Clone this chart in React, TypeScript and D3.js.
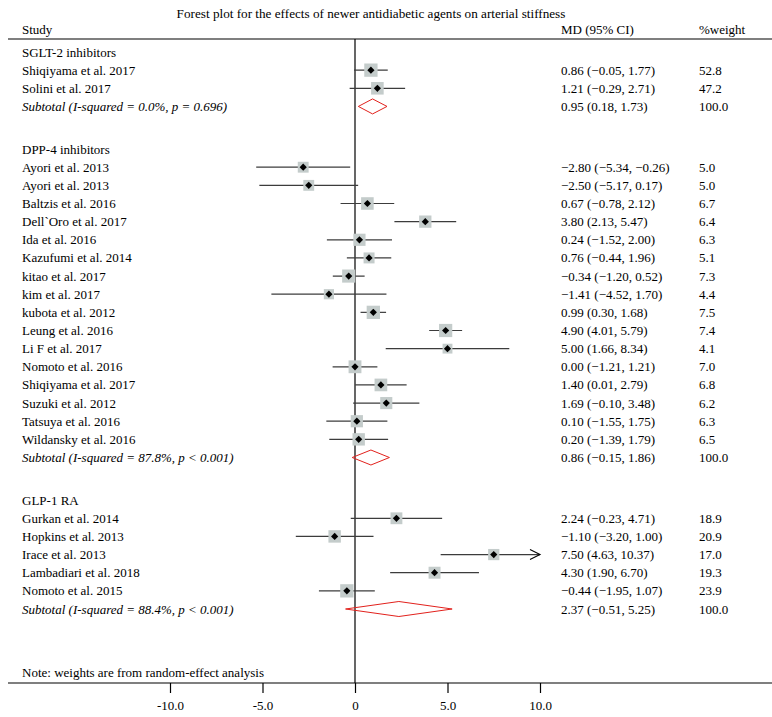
import { useEffect, useRef } from 'react';
import * as d3 from 'd3';

// subgroup headings and pooled results
const groupNames = ['SGLT-2 inhibitors', 'DPP-4 inhibitors', 'GLP-1 RA'];
const subMd = [0.95, 0.86, 2.37];
const subLo = [0.18, -0.15, -0.51];
const subHi = [1.73, 1.86, 5.25];
const subI2 = ['0.0%', '87.8%', '88.4%'];
const subP = ['p = 0.696', 'p < 0.001', 'p < 0.001'];

// individual studies
const studyGroup = [0, 0, 1, 1, 1, 1, 1, 1, 1, 1, 1, 1, 1, 1, 1, 1, 1, 1, 2, 2, 2, 2, 2];
const studyNames = [
  'Shiqiyama et al. 2017',
  'Solini et al. 2017',
  'Ayori et al. 2013',
  'Ayori et al. 2013',
  'Baltzis et al. 2016',
  'Dell`Oro et al. 2017',
  'Ida et al. 2016',
  'Kazufumi et al. 2014',
  'kitao et al. 2017',
  'kim et al. 2017',
  'kubota et al. 2012',
  'Leung et al. 2016',
  'Li F et al. 2017',
  'Nomoto et al. 2016',
  'Shiqiyama et al. 2017',
  'Suzuki et al. 2012',
  'Tatsuya et al. 2016',
  'Wildansky et al. 2016',
  'Gurkan et al. 2014',
  'Hopkins et al. 2013',
  'Irace et al. 2013',
  'Lambadiari et al. 2018',
  'Nomoto et al. 2015',
];
const studyMd = [0.86, 1.21, -2.8, -2.5, 0.67, 3.8, 0.24, 0.76, -0.34, -1.41, 0.99, 4.9, 5.0, 0.0, 1.4, 1.69, 0.1, 0.2, 2.24, -1.1, 7.5, 4.3, -0.44];
const studyLo = [-0.05, -0.29, -5.34, -5.17, -0.78, 2.13, -1.52, -0.44, -1.2, -4.52, 0.3, 4.01, 1.66, -1.21, 0.01, -0.1, -1.55, -1.39, -0.23, -3.2, 4.63, 1.9, -1.95];
const studyHi = [1.77, 2.71, -0.26, 0.17, 2.12, 5.47, 2.0, 1.96, 0.52, 1.7, 1.68, 5.79, 8.34, 1.21, 2.79, 3.48, 1.75, 1.79, 4.71, 1.0, 10.37, 6.7, 1.07];
const studyWeight = [52.8, 47.2, 5.0, 5.0, 6.7, 6.4, 6.3, 5.1, 7.3, 4.4, 7.5, 7.4, 4.1, 7.0, 6.8, 6.2, 6.3, 6.5, 18.9, 20.9, 17.0, 19.3, 23.9];

const axisTicks = [-10, -5, 0, 5, 10];

const W = 772;
const H = 717;
const FONT = '"Liberation Serif", "DejaVu Serif", serif';
const FS = 13;

function ForestPlot() {
  const svgRef = useRef(null);

  useEffect(() => {
    const svg = d3.select(svgRef.current);
    svg.selectAll('*').remove();
    svg.attr('font-family', FONT).attr('font-size', FS);

    // assign row slots: heading, studies, subtotal, then a gap
    const rows = [];
    let slot = 0;
    groupNames.forEach((g, gi) => {
      rows.push({ type: 'head', slot, gi });
      slot += 1;
      studyGroup.forEach((sg, i) => {
        if (sg === gi) {
          rows.push({ type: 'study', slot, gi, i });
          slot += 1;
        }
      });
      rows.push({ type: 'sub', slot, gi });
      slot += 2.35;
    });
    const lastSlot = rows[rows.length - 1].slot;

    const x = d3.scaleLinear().domain([-10, 10]).range([170, 540]);
    const y = d3.scaleLinear().domain([0, lastSlot]).range([52, 609]);
    const fmt = d3.format('.2f');

    const colStudy = 22;
    const colMd = 561;
    const colW = 699;
    const headerY = 39;
    const axisY = 683;

    // title + headers
    svg.append('text').attr('x', 371).attr('y', 18).attr('text-anchor', 'middle').attr('font-size', 13.2).text('Forest plot for the effects of newer antidiabetic agents on arterial stiffness');
    svg.append('text').attr('x', colStudy).attr('y', 34).text('Study');
    svg.append('text').attr('x', colMd).attr('y', 34).text('MD (95% CI)');
    svg.append('text').attr('x', colW).attr('y', 34).text('%weight');
    svg.append('line').attr('x1', 8).attr('x2', W).attr('y1', headerY).attr('y2', headerY).attr('stroke', '#000').attr('stroke-width', 1.2);

    // null line
    svg.append('line').attr('x1', x(0)).attr('x2', x(0)).attr('y1', headerY).attr('y2', axisY).attr('stroke', '#000').attr('stroke-width', 1.2);

    const g = svg.append('g');

    rows.forEach((r) => {
      const yy = y(r.slot);
      const ty = yy + 4.5;
      if (r.type === 'head') {
        g.append('text').attr('x', colStudy).attr('y', ty).text(groupNames[r.gi]);
      } else if (r.type === 'study') {
        const i = r.i;
        const groupMax = d3.max(studyWeight.filter((_, k) => studyGroup[k] === r.gi));
        const side = d3.scaleSqrt().domain([0, groupMax]).range([0, 13.3])(studyWeight[i]);
        const hiClip = Math.min(studyHi[i], 10);
        const loClip = Math.max(studyLo[i], -10);
        g.append('line').attr('x1', x(loClip)).attr('x2', x(hiClip)).attr('y1', yy).attr('y2', yy).attr('stroke', '#3c3c3c').attr('stroke-width', 1.2);
        if (studyHi[i] > 10) {
          const tip = x(10);
          g.append('path')
            .attr('d', `M${tip - 10},${yy - 5}L${tip},${yy}L${tip - 10},${yy + 5}`)
            .attr('fill', 'none')
            .attr('stroke', '#000')
            .attr('stroke-width', 1.1);
        }
        g.append('rect')
          .attr('x', x(studyMd[i]) - side / 2)
          .attr('y', yy - side / 2)
          .attr('width', side)
          .attr('height', side)
          .attr('fill', '#c4cccb');
        const d = 3.6;
        const cx = x(studyMd[i]);
        g.append('path').attr('d', `M${cx - d},${yy}L${cx},${yy - d}L${cx + d},${yy}L${cx},${yy + d}Z`).attr('fill', '#000');
        g.append('text').attr('x', colStudy).attr('y', ty).text(studyNames[i]);
        g.append('text').attr('x', colMd).attr('y', ty).text(`${fmt(studyMd[i])} (${fmt(studyLo[i])}, ${fmt(studyHi[i])})`);
        g.append('text').attr('x', colW).attr('y', ty).text(d3.format('.1f')(studyWeight[i]));
      } else {
        const gi = r.gi;
        const h = 7.5;
        g.append('path')
          .attr('d', `M${x(subLo[gi])},${yy}L${x(subMd[gi])},${yy - h}L${x(subHi[gi])},${yy}L${x(subMd[gi])},${yy + h}Z`)
          .attr('fill', 'none')
          .attr('stroke', '#e2211c')
          .attr('stroke-width', 1);
        g.append('text')
          .attr('x', colStudy)
          .attr('y', ty)
          .attr('font-style', 'italic')
          .text(`Subtotal (I-squared = ${subI2[gi]}, ${subP[gi]})`);
        g.append('text').attr('x', colMd).attr('y', ty).text(`${fmt(subMd[gi])} (${fmt(subLo[gi])}, ${fmt(subHi[gi])})`);
        g.append('text').attr('x', colW).attr('y', ty).text('100.0');
      }
    });

    // note + axis
    svg.append('text').attr('x', colStudy).attr('y', 677).text('Note: weights are from random-effect analysis');
    svg.append('line').attr('x1', 8).attr('x2', W).attr('y1', axisY).attr('y2', axisY).attr('stroke', '#000').attr('stroke-width', 1.2);

    const axis = svg
      .append('g')
      .attr('transform', `translate(0, ${axisY})`)
      .call(
        d3
          .axisBottom(x)
          .tickValues(axisTicks)
          .tickSize(10)
          .tickPadding(8)
          .tickFormat((v) => (v === 0 ? '0' : d3.format('.1f')(v).replace('\u2212', '-'))),
      );
    axis.select('.domain').remove();
    axis.selectAll('line').attr('stroke', '#000').attr('stroke-width', 1.2);
    axis.selectAll('text').attr('font-family', FONT).attr('font-size', FS).attr('fill', '#000');
  }, []);

  return <svg ref={svgRef} width={W} height={H} style={{ position: 'absolute', left: 0, top: 0, background: '#fff' }} />;
}

export default function App() {
  return <ForestPlot />;
}
